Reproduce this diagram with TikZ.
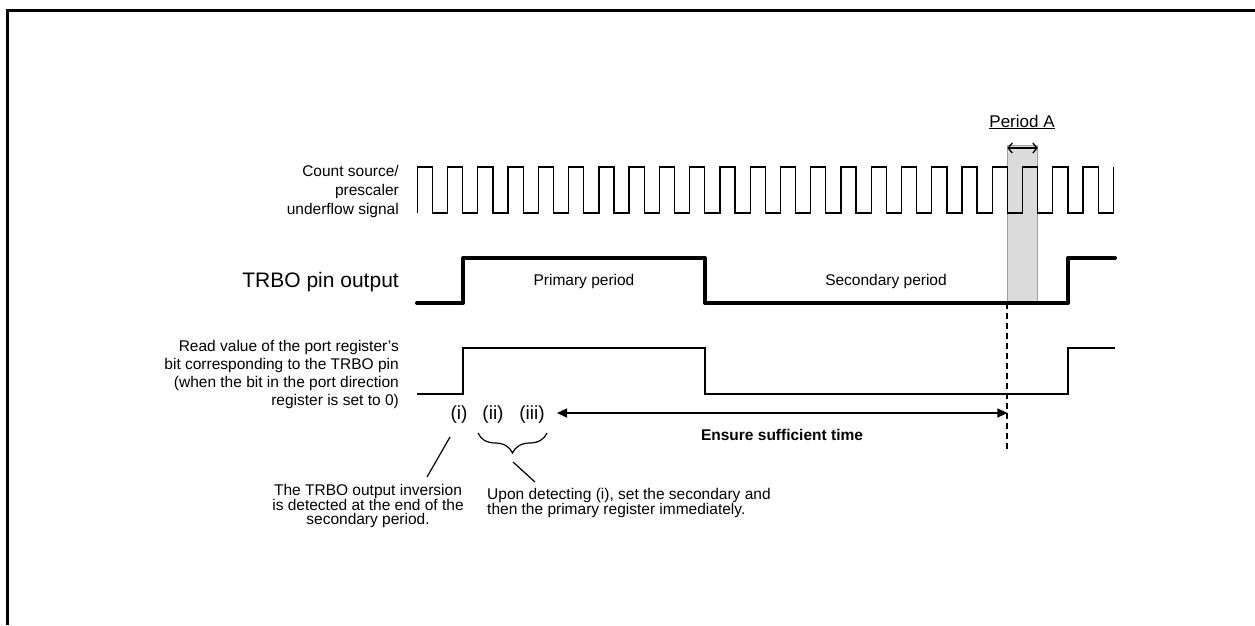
\documentclass[tikz,border=0pt]{standalone}
\usepackage{fontspec}
\setmainfont{Liberation Sans}
\usetikzlibrary{arrows.meta,decorations.pathreplacing}
\begin{document}
\begin{tikzpicture}[x=1pt,y=-1pt,
  lbl/.style={font=\fontsize{15.5}{19}\selectfont, inner sep=0pt},
  lblb/.style={font=\fontsize{15.5}{13.6}\selectfont, inner sep=0pt},
  num/.style={font=\fontsize{19}{22}\selectfont, inner sep=0pt},
  thickwave/.style={line width=4pt, line cap=round, line join=round},
  thinwave/.style={line width=1.2pt},
  clk/.style={line width=1.3pt, line join=miter},
  frame/.style={line width=3pt},
  lead/.style={line width=1.2pt},
  shade/.style={fill=gray!28, draw=gray!75, line width=1pt},
  dashline/.style={line width=2pt, dash pattern=on 6pt off 4pt},
  arr/.style={line width=1.3pt, {Triangle[length=10pt,width=9pt]}-{Triangle[length=10pt,width=9pt]}},
  parr/.style={line width=1.3pt, {Straight Barb[length=4pt,width=10pt]}-{Straight Barb[length=4pt,width=10pt]}}
]
\useasboundingbox (0,0) rectangle (1255,625);
% frame
\draw[frame] (7,625) -- (7,10) -- (1255,10);

% shaded period A
\fill[shade] (1007.4,145) rectangle (1037.7,303);

% clock signal
\draw[clk] (417.3,213) foreach \k in {0,...,22} { -- ++(0,-46) -- ++(15.13,0) -- ++(0,46) -- ++(15.13,0) } -- ++(0,-46);

% TRBO pin output
\draw[thickwave] (417,303) -- (463,303) -- (463,258) -- (705,258) -- (705,303) -- (1068,303) -- (1068,258) -- (1115,258);

% port register read value
\draw[thinwave] (417,394) -- (463,394) -- (463,348) -- (705,348) -- (705,394) -- (1068,394) -- (1068,348) -- (1115,348);

% labels
\node[lbl, align=right, anchor=east] (cnt) at (399,191) {Count source/\\prescaler\\underflow signal};
\node[font=\fontsize{21}{25}\selectfont, inner sep=0pt, anchor=east] (trbo) at (399,282) {TRBO pin output};
\node[lbl, align=right, anchor=east, font=\fontsize{15.5}{18}\selectfont] (port) at (399,374) {Read value of the port register's\\bit corresponding to the TRBO pin\\(when the bit in the port direction\\register is set to 0)};
\node[lbl] (prim) at (584,281) {Primary period};
\node[lbl] (sec) at (886,281) {Secondary period};
\node[font=\bfseries\fontsize{15.5}{19}\selectfont, inner sep=0pt] (ens) at (782,435) {Ensure sufficient time};
\node[font=\fontsize{17}{20}\selectfont, inner sep=0pt] (pa) at (1022,122) {\underline{Period A}};

% period A arrow
\coordinate (pal) at (1007.4,148);
\coordinate (par) at (1037.7,148);
\draw[parr] (pal) -- (par);

% dashed marker
\coordinate (dtop) at (1007.4,303);
\coordinate (dbot) at (1007.4,450);
\draw[dashline] (dtop) -- (dbot);

% (i) (ii) (iii)
\node[num] (n1) at (459,415) {(i)};
\node[num] (n2) at (493,415) {(ii)};
\node[num] (n3) at (532,415) {(iii)};

% ensure sufficient time arrow
\coordinate (el) at (557,413);
\coordinate (er) at (1007.4,413);
\draw[arr] (el) -- (er);

% brace
\coordinate (bl) at (478,433);
\coordinate (br) at (547,433);
\draw[lead, decorate, decoration={brace, mirror, amplitude=20pt, aspect=0.5}] (bl) -- (br);

% leader lines
\coordinate (l1a) at (450,437);
\coordinate (l1b) at (427,477);
\draw[lead] (l1a) -- (l1b);
\coordinate (l2a) at (513,462);
\coordinate (l2b) at (535,482);
\draw[lead] (l2a) -- (l2b);

% bottom texts
\node[lblb, align=center, anchor=north] (inv) at (368,484) {The TRBO output inversion\\is detected at the end of the\\secondary period.};
\node[lblb, align=left, anchor=north west] (upon) at (487,488) {Upon detecting (i), set the secondary and\\then the primary register immediately.};
\end{tikzpicture}
\end{document}
